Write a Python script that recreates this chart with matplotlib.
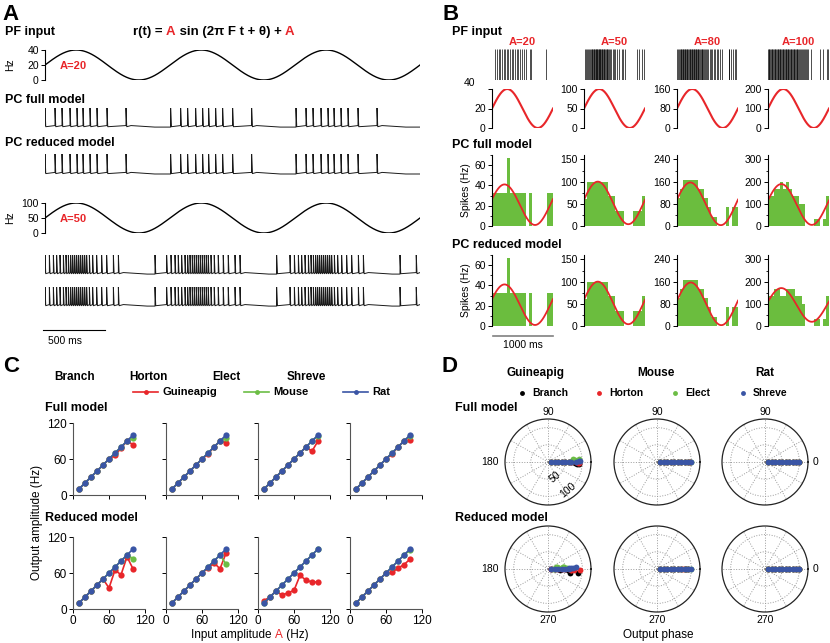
import numpy as np
import matplotlib.pyplot as plt
from matplotlib.ticker import MultipleLocator

plt.rcParams['font.family'] = ['Liberation Sans', 'DejaVu Sans']
plt.rcParams['axes.linewidth'] = 0.8
for ax_ in ('xtick', 'ytick'):
    plt.rcParams[ax_ + '.major.size'] = 3
    plt.rcParams[ax_ + '.major.width'] = 0.7
    plt.rcParams[ax_ + '.minor.size'] = 1.8
    plt.rcParams[ax_ + '.minor.width'] = 0.6
    plt.rcParams[ax_ + '.labelsize'] = 7.5
    plt.rcParams[ax_ + '.major.pad'] = 1.5

W, H = 830, 643
RED = '#e8262a'
GREEN = '#6cbd45'
BLUE = '#3a55a5'
HIST_GREEN = '#6bbd3e'

# ---------------- data ----------------
# panel A: spike times (ms) inside one 1 Hz input cycle, and cycle onsets
a20_pattern = [0, 80, 136, 200, 256, 304, 360, 416, 496, 648]
a20_starts = [0, 1005, 2008]
a50_pattern = [0, 35, 67, 93, 120, 147, 168, 187, 205, 221, 237, 253, 269, 285,
               301, 317, 333, 355, 381, 413, 453, 493, 547, 587, 880]
a50_starts = [0, 973, 1960, 2970]

# panel B: PF input rasters (ms)
b_amps = [20, 50, 80, 100]
raster_a20 = [54, 81, 119, 135, 162, 189, 216, 254, 270, 297, 324, 351, 378, 405,
              432, 459, 486, 524, 556, 621, 637, 891]
raster_a50 = [15, 35, 55, 70, 85, 100, 112, 125, 137, 150, 160, 170, 180, 190, 200,
              210, 220, 230, 240, 250, 260, 270, 280, 290, 300, 310, 320, 332, 345,
              358, 370, 385, 400, 415, 430, 450, 470, 490, 515, 540, 570, 617, 640,
              672, 863, 900, 945, 983]
raster_a80 = [5, 20, 35, 48, 60, 72, 84, 95, 106, 117, 128, 139, 150, 161, 172, 183,
              194, 205, 216, 227, 238, 249, 260, 271, 282, 293, 304, 316, 328, 340,
              352, 364, 376, 390, 404, 418, 432, 448, 464, 480, 498, 516, 535, 555,
              575, 600, 625, 650, 680, 700, 735, 845, 860, 880, 925, 950, 968]
raster_a100 = [0, 12, 24, 36, 48, 60, 72, 84, 96, 108, 120, 132, 144, 156, 168, 180,
               192, 204, 216, 228, 240, 252, 264, 276, 288, 300, 312, 324, 336, 348,
               360, 372, 384, 396, 408, 420, 432, 444, 456, 468, 480, 494, 508, 522,
               536, 550, 566, 582, 600, 620, 640, 660, 710, 850, 905, 960, 985]
rasters = [raster_a20, raster_a50, raster_a80, raster_a100]

# panel B: PSTH (Hz) in 20 bins of 50 ms
hist_full_a20 = [33, 33, 33, 33, 33, 67, 33, 33, 33, 33, 33, 0, 33, 0, 0, 0, 0, 0, 33, 33]
hist_full_a50 = [60, 100, 100, 100, 100, 100, 100, 100, 67, 67, 33, 33, 33, 0, 0, 0, 33, 33, 33, 67]
hist_full_a80 = [100, 133, 167, 167, 167, 167, 167, 133, 133, 100, 67, 33, 33, 0, 0, 0, 67, 0, 67, 67]
hist_full_a100 = [133, 133, 167, 167, 200, 167, 200, 167, 133, 133, 100, 100, 0, 0, 0, 33, 33, 0, 33, 133]
hist_red_a20 = [33, 33, 33, 33, 33, 67, 33, 33, 33, 33, 33, 0, 33, 0, 0, 0, 0, 0, 33, 33]
hist_red_a50 = [60, 100, 100, 100, 100, 100, 100, 100, 67, 67, 33, 33, 33, 0, 0, 0, 33, 33, 33, 67]
hist_red_a80 = [100, 133, 167, 167, 167, 167, 167, 133, 133, 100, 67, 33, 33, 0, 0, 0, 67, 0, 67, 67]
hist_red_a100 = [133, 133, 167, 167, 133, 133, 167, 167, 167, 133, 133, 100, 0, 0, 0, 33, 33, 0, 33, 133]
hist_full = [hist_full_a20, hist_full_a50, hist_full_a80, hist_full_a100]
hist_red = [hist_red_a20, hist_red_a50, hist_red_a80, hist_red_a100]
hist_ytop = [70, 160, 256, 320]
hist_major = [20, 50, 80, 100]
# fitted sine (mean, amplitude, phase rad)
fit_full = [(21, 20, 0.28), (52, 48, 0.15), (80, 77, 0.2), (97, 92, 0.2)]
fit_red = [(21, 20, 0.28), (52, 48, 0.15), (80, 77, 0.15), (95, 76, 0.2)]

# panels C/D: output amplitude (Hz) vs input amplitude
input_amp = [10, 20, 30, 40, 50, 60, 70, 80, 90, 100]
morphs = ['Branch', 'Horton', 'Elect', 'Shreve']
rat_amp = [10, 20, 30, 40, 50, 60, 70, 80, 90, 100]
gp_full = [[10, 20, 30, 40, 50, 60, 66, 78, 90, 84],
           [10, 20, 30, 40, 50, 60, 68, 80, 90, 87],
           [10, 20, 30, 40, 50, 60, 70, 80, 73, 90],
           [10, 20, 30, 40, 50, 60, 68, 80, 90, 92]]
mouse_full = [[10, 20, 30, 40, 50, 60, 70, 80, 90, 95],
              [10, 20, 30, 40, 50, 60, 70, 80, 90, 95],
              [10, 20, 30, 40, 50, 60, 70, 80, 90, 99],
              [10, 20, 30, 40, 50, 60, 70, 80, 90, 99]]
gp_red = [[10, 20, 30, 40, 50, 35, 65, 57, 87, 67],
          [10, 20, 30, 40, 50, 60, 68, 77, 67, 93],
          [14, 20, 30, 23, 27, 31, 56, 48, 45, 45],
          [10, 20, 30, 40, 50, 60, 61, 68, 74, 83]]
mouse_red = [[10, 20, 30, 40, 50, 60, 70, 80, 90, 84],
             [10, 20, 30, 40, 50, 60, 70, 80, 90, 75],
             [10, 20, 30, 40, 50, 60, 70, 80, 90, 100],
             [10, 20, 30, 40, 50, 60, 70, 80, 90, 98]]
# panel D: output phase (deg), guineapig only deviates from 0
gp_full_phase = [[0, 0, 0, 0, 0, 0, 0, -2, -3, -4],
                 [0, 0, 0, 0, 0, 0, 0, 0, -2, -1],
                 [0, 0, 0, 0, 0, 0, 2, 4, 6, 5],
                 [0, 0, 0, 0, 0, 0, 0, 0, 1, 2]]
gp_red_phase = [[0, 0, 0, 0, 0, -3, -10, -4, -7, -3],
                [0, 0, 0, 0, 0, 0, -2, -3, -2, -1],
                [0, 0, 5, 15, 10, 8, 4, 8, 7, 7],
                [0, 0, 0, 0, 0, 0, 2, 3, 3, 4]]
zero_phase = [0, 0, 0, 0, 0, 0, 0, 0, 0, 0]


fig = plt.figure(figsize=(W / 100, H / 100), dpi=100)


def box(x0, y0, w, h):
    return [x0 / W, 1 - (y0 + h) / H, w / W, h / H]


ov = fig.add_axes([0, 0, 1, 1], zorder=10)
ov.set_xlim(0, W)
ov.set_ylim(H, 0)
ov.axis('off')


def txt(x, y, s, size=7.5, bold=False, **kw):
    kw.setdefault('va', 'center')
    return ov.text(x, y, s, fontsize=size, fontweight='bold' if bold else 'normal', **kw)


def pieces_text(x, y, pieces, size, bold=False, ha='left'):
    r = fig.canvas.get_renderer()
    arts = [txt(0, y, s, size=size, bold=bold, color=c) for s, c in pieces]
    widths = [a.get_window_extent(r).width for a in arts]
    x0 = x - sum(widths) / 2 if ha == 'center' else x
    for a, w in zip(arts, widths):
        a.set_x(x0)
        x0 += w


def only_left(ax):
    for s in ('top', 'right', 'bottom'):
        ax.spines[s].set_visible(False)
    ax.set_xticks([])
    ax.patch.set_alpha(0)


def trace_points(pattern, starts, t_end=3000):
    times = sorted(s + p for s in starts for p in pattern if s + p < t_end)
    xs, ys = [0.0], [0.08]
    for i, t in enumerate(times):
        nxt = times[i + 1] if i + 1 < len(times) else t_end
        xs += [t, t, t + 6]
        ys += [0.08, 1.0, 0.02]
        if nxt - t > 250:
            xs += [t + 40, t + 230, nxt]
            ys += [0.08, 0.0, 0.0]
        else:
            xs.append(nxt)
            ys.append(0.08)
    return xs, ys


# ---------------- panel A ----------------
txt(2, 14, 'A', size=16, bold=True)
txt(5, 32, 'PF input', size=9, bold=True)
pieces_text(133, 32, [('r(t) = ', 'black'), ('A', RED), (' sin (2\u03c0 F t + \u03b8) + ', 'black'),
                      ('A', RED)], size=9.5, bold=True)

t_ms = np.linspace(0, 3000, 1200)
for (y0, amp, lab_y) in [(50, 20, 65), (203, 50, 218)]:
    ax = fig.add_axes(box(45, y0, 375, 30))
    ax.plot(t_ms, amp + amp * np.sin(2 * np.pi * t_ms / 1000), color='black', lw=1.0)
    ax.set_xlim(0, 3000)
    ax.set_ylim(0, 2 * amp)
    ax.set_yticks([0, amp, 2 * amp])
    only_left(ax)
    txt(10, lab_y, 'Hz', size=7.5, rotation=90, ha='center')
    txt(60, lab_y + 1, 'A=%d' % amp, size=8, bold=True, color=RED)

txt(5, 100, 'PC full model', size=9, bold=True)
txt(5, 143, 'PC reduced model', size=9, bold=True)
for top, base, pat, st in [(108, 127, a20_pattern, a20_starts), (154, 174, a20_pattern, a20_starts),
                           (255, 274, a50_pattern, a50_starts), (287, 306, a50_pattern, a50_starts)]:
    ax = fig.add_axes(box(45, top, 375, base - top + 2))
    xs, ys = trace_points(pat, st)
    ax.plot(xs, ys, color='#1a1a1a', lw=0.7)
    ax.set_xlim(0, 3000)
    ax.set_ylim(-0.1, 1.0)
    ax.axis('off')

ov.plot([43, 105], [330, 330], color='black', lw=0.8)
txt(48, 341, '500 ms', size=7.5)

# ---------------- panel B ----------------
txt(442, 14, 'B', size=16, bold=True)
txt(452, 32, 'PF input', size=9, bold=True)
txt(452, 145, 'PC full model', size=9, bold=True)
txt(452, 245, 'PC reduced model', size=9, bold=True)
b_x0 = [492, 584, 677, 768]
t1 = np.linspace(0, 1000, 300)
bins = np.arange(20) * 50
for i, amp in enumerate(b_amps):
    x0 = b_x0[i]
    txt(x0 + 30, 42, 'A=%d' % amp, size=8, bold=True, color=RED, ha='center')
    ax = fig.add_axes(box(x0, 49, 61, 31))
    ax.vlines(rasters[i], 0, 1, color='black', lw=0.7, alpha=0.7)
    ax.set_xlim(0, 1000)
    ax.set_ylim(0, 1)
    ax.axis('off')

    ax = fig.add_axes(box(x0, 89, 61, 39))
    ax.plot(t1, amp + amp * np.sin(2 * np.pi * t1 / 1000), color=RED, lw=1.5)
    ax.set_xlim(0, 1000)
    ax.set_ylim(0, 2 * amp)
    only_left(ax)
    if amp == 20:
        ax.set_yticks([0, 20, 40])
        ax.set_yticklabels(['0', '20', ''])
        txt(x0 - 23, 83, '40', size=7.5, ha='center')
    else:
        ax.set_yticks([0, amp, 2 * amp])

    for y0, data, fits in [(155, hist_full, fit_full), (255, hist_red, fit_red)]:
        ax = fig.add_axes(box(x0, y0, 61, 71))
        ax.bar(bins, data[i], width=50, align='edge', color=HIST_GREEN, linewidth=0)
        m, a, ph = fits[i]
        ax.plot(t1, m + a * np.sin(2 * np.pi * t1 / 1000 + ph), color=RED, lw=1.3)
        ax.set_xlim(0, 1000)
        ax.set_ylim(0, hist_ytop[i])
        only_left(ax)
        ax.yaxis.set_major_locator(MultipleLocator(hist_major[i]))
        ax.yaxis.set_minor_locator(MultipleLocator(hist_major[i] / 2))
        if i == 0:
            ax.set_ylabel('Spikes (Hz)', fontsize=7.5, labelpad=2)

ov.plot([493, 553], [336, 336], color='#808080', lw=1.2)
txt(523, 345, '1000 ms', size=7.5, ha='center')

# ---------------- panel C ----------------
txt(3, 367, 'C', size=16, bold=True)
for x, name in zip([75, 148, 226, 306], morphs):
    txt(x, 377, name, size=8.5, bold=True, ha='center')
for x0, col, name in [(133, RED, 'Guineapig'), (244, GREEN, 'Mouse'), (343, BLUE, 'Rat')]:
    ov.plot([x0, x0 + 25], [392, 392], color=col, lw=1.2)
    ov.plot([x0 + 12.5], [392], 'o', color=col, ms=3.5, mec='none')
    txt(x0 + 29, 392, name, size=8, bold=True)
txt(45, 408, 'Full model', size=9, bold=True)
txt(45, 518, 'Reduced model', size=9, bold=True)

c_x0 = [73, 166, 258, 350]
for row, (y0, gp, mo) in enumerate([(423, gp_full, mouse_full), (537, gp_red, mouse_red)]):
    for j in range(4):
        ax = fig.add_axes(box(c_x0[j], y0, 72, 72))
        ax.plot(input_amp, gp[j], '-o', color=RED, lw=1.2, ms=4.5, mec='none')
        ax.plot(input_amp, mo[j], '-o', color=GREEN, lw=1.2, ms=4.5, mec='none')
        ax.plot(input_amp, rat_amp, '-o', color=BLUE, lw=1.2, ms=4.5, mec='none')
        ax.set_xlim(0, 120)
        ax.set_ylim(0, 120)
        ax.set_xticks([0, 60, 120])
        ax.set_yticks([0, 60, 120])
        for s in ('top', 'right'):
            ax.spines[s].set_visible(False)
        for s in ('left', 'bottom'):
            ax.spines[s].set_color('#555555')
        ax.patch.set_alpha(0)
        if j > 0:
            ax.set_yticklabels([])
        if row == 0:
            ax.set_xticklabels([])
        for lab in ax.get_xticklabels() + ax.get_yticklabels():
            lab.set_fontsize(8.5)

txt(37, 522, 'Output amplitude (Hz)', size=8.5, rotation=90, ha='center')
pieces_text(250, 635, [('Input amplitude ', 'black'), ('A', RED), (' (Hz)', 'black')], size=8.5,
            ha='center')

# ---------------- panel D ----------------
txt(441, 366, 'D', size=16, bold=True)
species = ['Guineapig', 'Mouse', 'Rat']
d_cx = [548, 657, 765]
for x, name in zip([535, 656, 765], species):
    txt(x, 373, name, size=8.5, bold=True, ha='center')
morph_cols = ['black', RED, GREEN, BLUE]
for x, col, name in zip([522, 599, 675, 743], morph_cols, morphs):
    ov.plot([x], [393], 'o', color=col, ms=3.5, mec='none')
    txt(x + 10, 393, name, size=7.5, bold=True)
txt(455, 408, 'Full model', size=9, bold=True)
txt(455, 518, 'Reduced model', size=9, bold=True)

for row, (cy, gp, mo, gph) in enumerate([(462, gp_full, mouse_full, gp_full_phase),
                                         (569, gp_red, mouse_red, gp_red_phase)]):
    for k, cx in enumerate(d_cx):
        ax = fig.add_axes(box(cx - 43, cy - 43, 86, 86), projection='polar')
        ax.patch.set_alpha(0)
        for m in range(4):
            if k == 0:
                amps, ph = gp[m], gph[m]
            elif k == 1:
                amps, ph = mo[m], zero_phase
            else:
                amps, ph = rat_amp, zero_phase
            ax.plot(np.deg2rad(ph), amps, 'o', color=morph_cols[m], ms=4.2, mec='none')
        ax.set_ylim(0, 125)
        ax.set_thetagrids(range(0, 360, 30), labels=[])
        ax.set_rgrids([50, 100], labels=[])
        ax.grid(True, color='#9a9a9a', ls=':', lw=0.7)
        ax.spines['polar'].set_linewidth(0.9)
        ax.spines['polar'].set_color('#222222')
        if row == 0:
            txt(cx, 412, '90', size=7.5, ha='center')
        else:
            txt(cx, 620, '270', size=7.5, ha='center')
        if k == 0:
            txt(490, cy, '180', size=7.5, ha='center')
        if k == 2:
            txt(815, cy, '0', size=7.5, ha='center')
    if row == 0:
        txt(555, 477, '50', size=7.5, ha='center', rotation=40)
        txt(568, 490, '100', size=7.5, ha='center', rotation=40)

txt(658, 635, 'Output phase', size=8.5, ha='center')

fig.savefig('out.png', dpi=100)
